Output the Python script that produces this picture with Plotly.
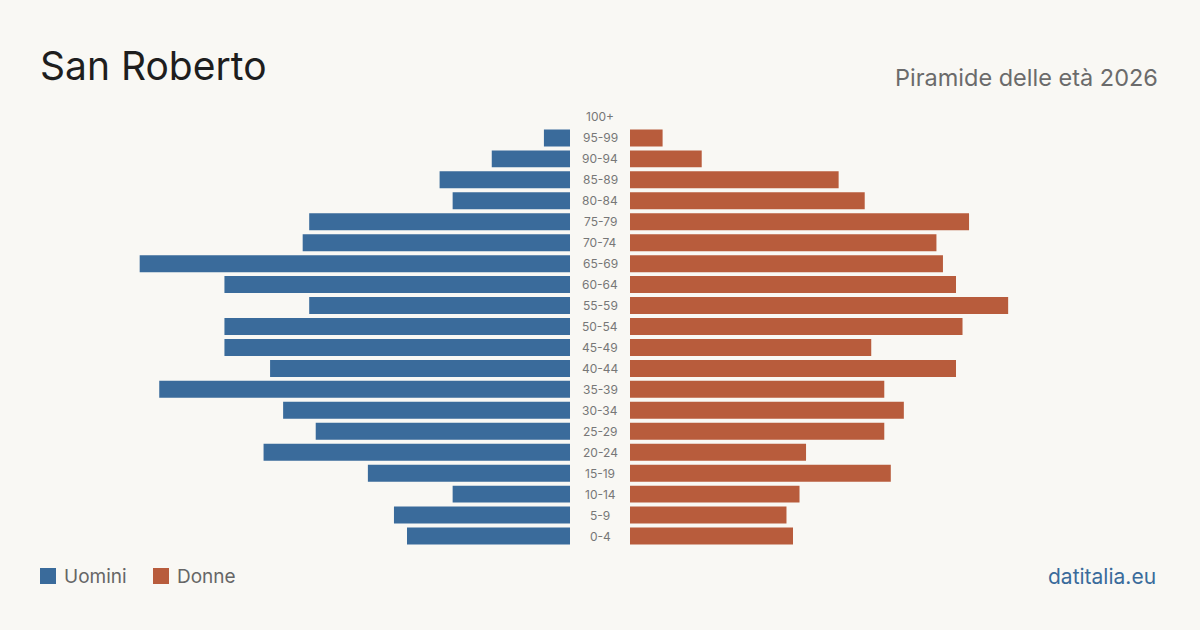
import plotly.graph_objects as go

age_groups = ["100+", "95-99", "90-94", "85-89", "80-84", "75-79", "70-74", "65-69",
              "60-64", "55-59", "50-54", "45-49", "40-44", "35-39", "30-34", "25-29",
              "20-24", "15-19", "10-14", "5-9", "0-4"]
uomini = [0, 4, 12, 20, 18, 40, 41, 66, 53, 40, 53, 53, 46, 63, 44, 39, 47, 31, 18, 27, 25]
donne = [0, 5, 11, 32, 36, 52, 47, 48, 50, 58, 51, 37, 50, 39, 42, 39, 27, 40, 26, 24, 25]

BLUE = "#3a6b9b"
RED = "#b85c3c"
BG = "#f9f8f4"
FONT = "Inter, Roboto, sans-serif"
W, H = 1200, 630
XMAX = 81.5
PX = 6.52

fig = go.Figure()
fig.add_trace(go.Bar(y=age_groups, x=uomini, orientation="h", marker=dict(color=BLUE, line=dict(width=0)),
                     xaxis="x", yaxis="y", name="Uomini", hoverinfo="x+y"))
fig.add_trace(go.Bar(y=age_groups, x=donne, orientation="h", marker=dict(color=RED, line=dict(width=0)),
                     xaxis="x2", yaxis="y", name="Donne", hoverinfo="x+y"))

y0 = (H - 546.5) / H
y1 = (H - 106.5) / H

annotations = []
for g in age_groups:
    annotations.append(dict(x=0.5, xref="paper", y=g, yref="y", text=g, showarrow=False,
                            font=dict(family=FONT, size=12, color="#777"),
                            xanchor="center", yanchor="middle"))

annotations += [
    dict(x=38 / W, y=1 - 66 / H, xref="paper", yref="paper", text="San Roberto", showarrow=False,
         xanchor="left", yanchor="middle", font=dict(family=FONT, size=39, color="#1e1e1e")),
    dict(x=1160 / W, y=1 - 77 / H, xref="paper", yref="paper", text="Piramide delle età 2026",
         showarrow=False, xanchor="right", yanchor="middle",
         font=dict(family=FONT, size=23.5, color="#6b6b6b")),
    dict(x=62 / W, y=1 - 576 / H, xref="paper", yref="paper", text="Uomini", showarrow=False,
         xanchor="left", yanchor="middle", font=dict(family=FONT, size=19, color="#666")),
    dict(x=175 / W, y=1 - 576 / H, xref="paper", yref="paper", text="Donne", showarrow=False,
         xanchor="left", yanchor="middle", font=dict(family=FONT, size=19, color="#666")),
    dict(x=1158 / W, y=1 - 576 / H, xref="paper", yref="paper", text="datitalia.eu",
         showarrow=False, xanchor="right", yanchor="middle",
         font=dict(family=FONT, size=21, color=BLUE)),
]

shapes = [
    dict(type="rect", xref="paper", yref="paper", x0=40 / W, x1=56 / W,
         y0=1 - 584 / H, y1=1 - 568 / H, fillcolor=BLUE, line=dict(width=0)),
    dict(type="rect", xref="paper", yref="paper", x0=153 / W, x1=169 / W,
         y0=1 - 584 / H, y1=1 - 568 / H, fillcolor=RED, line=dict(width=0)),
]

fig.update_layout(
    width=W, height=H,
    margin=dict(l=0, r=0, t=0, b=0),
    paper_bgcolor=BG, plot_bgcolor=BG,
    showlegend=False,
    bargap=0.19,
    xaxis=dict(domain=[(570 - XMAX * PX) / W, 570 / W], range=[XMAX, 0], visible=False,
               fixedrange=True),
    xaxis2=dict(domain=[630 / W, (630 + XMAX * PX) / W], range=[0, XMAX], visible=False,
                fixedrange=True),
    yaxis=dict(domain=[y0, y1], categoryorder="array", categoryarray=age_groups[::-1],
               visible=False, fixedrange=True),
    annotations=annotations,
    shapes=shapes,
)

fig.write_html("out.html", config=dict(displayModeBar=False))
